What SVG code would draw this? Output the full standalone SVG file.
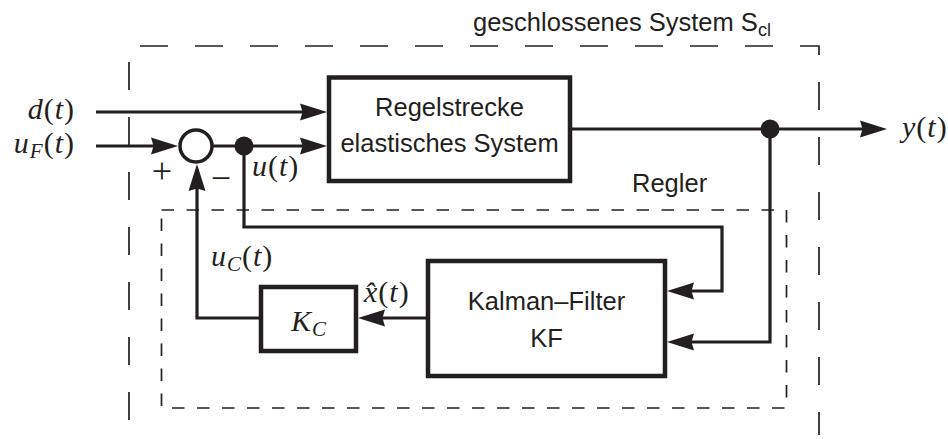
<svg xmlns="http://www.w3.org/2000/svg" width="948" height="439" viewBox="0 0 948 439">
  <defs>
    <marker id="arrow" markerUnits="userSpaceOnUse" markerWidth="40" markerHeight="30" refX="0" refY="0" orient="auto" overflow="visible" viewBox="-10 -15 40 30">
      <path d="M-7,-8.5 L20,0 L-7,8.5 L-4.5,0 Z" fill="#231f20"/>
    </marker>
    <style>
      .box { fill: #fff; stroke: #231f20; stroke-width: 4.5; }
      .wire { fill: none; stroke: #231f20; stroke-width: 3.2; marker-end: url(#arrow); }
      .dot { fill: #231f20; }
      .frame { fill: none; stroke: #231f20; stroke-width: 1.7; }
      .sans { font-family: "Liberation Sans", Arial, sans-serif; font-size: 25.5px; fill: #231f20; }
      .math { font-family: "Liberation Serif", "Times New Roman", serif; font-size: 30px; font-style: italic; letter-spacing: 1px; fill: #231f20; }
      .up { font-style: normal; }
      .sub { font-size: 21px; }
      .ssub { font-size: 18px; }
      .sign { font-family: "Liberation Serif", "Times New Roman", serif; font-size: 36px; fill: #231f20; }
    </style>
  </defs>

  <rect width="948" height="439" fill="#fff"/>

  <!-- closed-loop system frame (open at the bottom) -->
  <g id="frame-closed">
    <path class="frame" d="M129,435 V46 H819 V435" stroke-dasharray="28 27" stroke-dashoffset="40"/>
    <text class="sans" x="473" y="31">geschlossenes System S<tspan class="ssub" dy="5">cl</tspan></text>
  </g>

  <!-- controller frame -->
  <g id="frame-regler">
    <rect class="frame" x="161.5" y="210" width="625" height="198" stroke-dasharray="12.5 12.5"/>
    <text class="sans" x="632" y="192">Regler</text>
  </g>

  <!-- connectors -->
  <g id="connectors">
    <path class="wire" d="M96,112 H307"/>
    <path class="wire" d="M96,146 H158"/>
    <path class="wire" d="M212,146 H307"/>
    <path class="wire" d="M244,146 V227 H722 V291 H687"/>
    <path class="wire" d="M570,129 H867"/>
    <path class="wire" d="M770,129 V342 H687"/>
    <path class="wire" d="M428,318 H378"/>
    <path class="wire" d="M261,318 H197 V184"/>
    <circle class="dot" cx="244" cy="146" r="9.5"/>
    <circle class="dot" cx="770" cy="129" r="9.5"/>
  </g>

  <!-- summing junction -->
  <g id="sum">
    <circle cx="196" cy="146" r="16" fill="#fff" stroke="#231f20" stroke-width="3.5"/>
    <text class="sign" x="162" y="183" text-anchor="middle">+</text>
    <text class="sign" x="221" y="190" text-anchor="middle">−</text>
  </g>

  <g id="plant">
    <rect class="box" x="329" y="77.5" width="241" height="103.5"/>
    <text class="sans" x="449.5" y="116" text-anchor="middle">Regelstrecke</text>
    <text class="sans" x="449.5" y="152" text-anchor="middle">elastisches System</text>
  </g>

  <g id="kalman">
    <rect class="box" x="428" y="261" width="237" height="115"/>
    <text class="sans" x="546.5" y="310" text-anchor="middle">Kalman–Filter</text>
    <text class="sans" x="546.5" y="347" text-anchor="middle">KF</text>
  </g>

  <g id="gain">
    <rect class="box" x="261" y="287" width="95" height="64"/>
    <text class="math" x="309" y="331" text-anchor="middle">K<tspan class="sub" dy="5">C</tspan></text>
  </g>

  <!-- signal labels -->
  <g id="labels">
    <text class="math" x="75" y="119" text-anchor="end">d<tspan class="up">(</tspan>t<tspan class="up">)</tspan></text>
    <text class="math" x="75" y="153" text-anchor="end">u<tspan class="sub" dy="5">F</tspan><tspan class="up" dy="-5">(</tspan>t<tspan class="up">)</tspan></text>
    <text class="math" x="252" y="176">u<tspan class="up">(</tspan>t<tspan class="up">)</tspan></text>
    <text class="math" x="211" y="266">u<tspan class="sub" dy="5">C</tspan><tspan class="up" dy="-5">(</tspan>t<tspan class="up">)</tspan></text>
    <text class="math" x="364" y="302">x̂<tspan class="up">(</tspan>t<tspan class="up">)</tspan></text>
    <text class="math" x="902" y="137">y<tspan class="up">(</tspan>t<tspan class="up">)</tspan></text>
  </g>
</svg>
